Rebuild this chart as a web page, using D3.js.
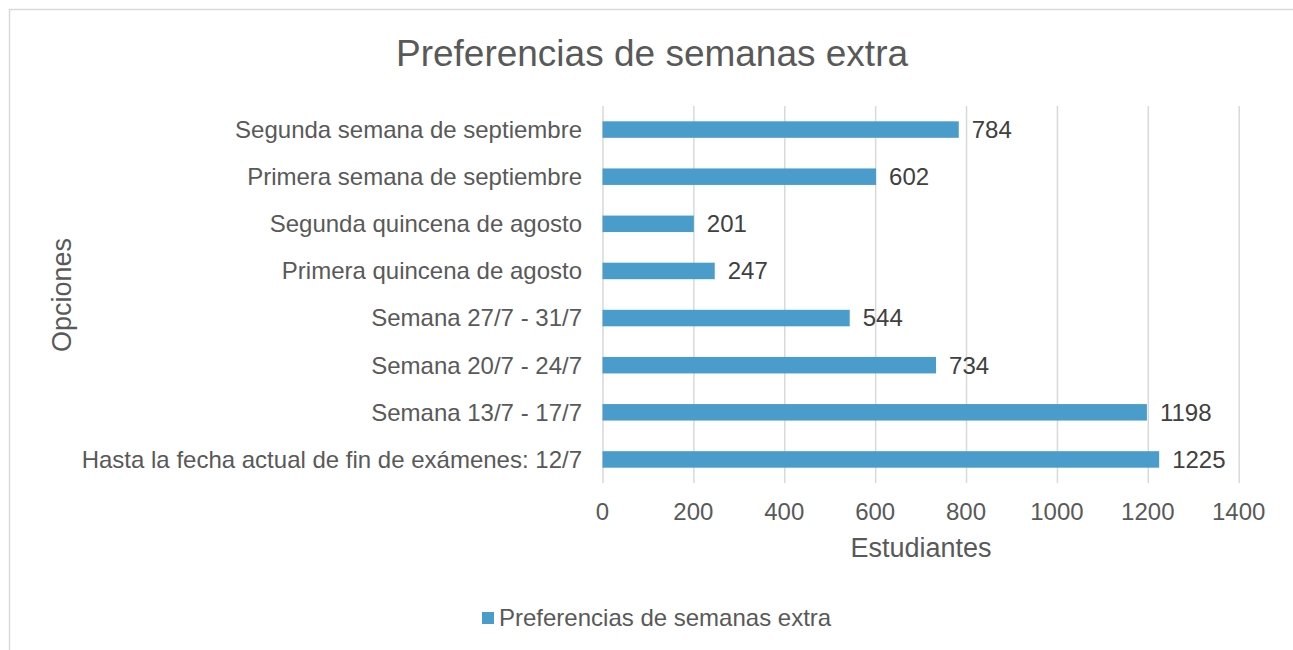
<!DOCTYPE html>
<html lang="es">
<head>
  <meta charset="UTF-8">
  <title>Preferencias de semanas extra</title>
  <script src="https://cdn.jsdelivr.net/npm/d3@7"></script>
  <style>
    body { margin: 0; background: #fff; }
    svg text { font-family: "Liberation Sans", Arial, sans-serif; fill: #595959; }
    .grid line { stroke: #d9d9d9; stroke-width: 1.5; }
    .grid path { display: none; }
  </style>
</head>
<body>
<svg width="1293" height="650"></svg>
<script>
  // datos del gráfico
  const categories = [
    'Segunda semana de septiembre',
    'Primera semana de septiembre',
    'Segunda quincena de agosto',
    'Primera quincena de agosto',
    'Semana 27/7 - 31/7',
    'Semana 20/7 - 24/7',
    'Semana 13/7 - 17/7',
    'Hasta la fecha actual de fin de exámenes: 12/7'
  ];
  const values = [784, 602, 201, 247, 544, 734, 1198, 1225];
  const xTicks = [0, 200, 400, 600, 800, 1000, 1200, 1400];
  const seriesName = 'Preferencias de semanas extra';

  const svg = d3.select('svg');
  const color = '#4a9cca';
  const plot = { left: 602.5, right: 1238.7, top: 106, bottom: 483 };

  // marco del gráfico
  svg.append('rect')
    .attr('x', 9.5).attr('y', 9.5)
    .attr('width', 1300).attr('height', 700)
    .attr('fill', 'none').attr('stroke', '#d9d9d9').attr('stroke-width', 1.5);

  const x = d3.scaleLinear().domain([0, 1400]).range([plot.left, plot.right]);
  const y = d3.scaleBand().domain(categories).range([plot.top, plot.bottom]).paddingInner(0.65).paddingOuter(0.325);

  // líneas de cuadrícula verticales
  svg.append('g').attr('class', 'grid')
    .attr('transform', `translate(0,${plot.bottom})`)
    .call(d3.axisBottom(x).tickValues(xTicks).tickSize(-(plot.bottom - plot.top)).tickFormat(''));

  // etiquetas del eje x
  svg.append('g').selectAll('text').data(xTicks).join('text')
    .attr('x', d => x(d)).attr('y', 520)
    .attr('text-anchor', 'middle')
    .style('font-size', '24px')
    .text(d => d);

  // etiquetas de categorías
  svg.append('g').selectAll('text').data(categories).join('text')
    .attr('x', 582).attr('y', d => y(d) + y.bandwidth() / 2)
    .attr('dy', '0.35em')
    .attr('text-anchor', 'end')
    .style('font-size', '24px')
    .text(d => d);

  // barras
  svg.append('g').selectAll('rect').data(values).join('rect')
    .attr('x', x(0)).attr('y', (d, i) => y(categories[i]))
    .attr('width', d => x(d) - x(0)).attr('height', y.bandwidth())
    .attr('fill', color);

  // etiquetas de valores
  svg.append('g').selectAll('text').data(values).join('text')
    .attr('x', d => x(d) + 13).attr('y', (d, i) => y(categories[i]) + y.bandwidth() / 2)
    .attr('dy', '0.35em')
    .style('font-size', '24px')
    .style('fill', '#404040')
    .text(d => d);

  // título
  svg.append('text')
    .attr('x', 652).attr('y', 66)
    .attr('text-anchor', 'middle')
    .style('font-size', '37px')
    .text(seriesName);

  // títulos de ejes
  svg.append('text')
    .attr('x', 921).attr('y', 557)
    .attr('text-anchor', 'middle')
    .style('font-size', '27px')
    .text('Estudiantes');

  svg.append('text')
    .attr('transform', 'translate(71,295) rotate(-90)')
    .attr('text-anchor', 'middle')
    .style('font-size', '27px')
    .text('Opciones');

  // leyenda
  svg.append('rect')
    .attr('x', 482).attr('y', 612).attr('width', 12).attr('height', 12)
    .attr('fill', color);
  svg.append('text')
    .attr('x', 499).attr('y', 626)
    .style('font-size', '24px')
    .text(seriesName);
</script>
</body>
</html>
